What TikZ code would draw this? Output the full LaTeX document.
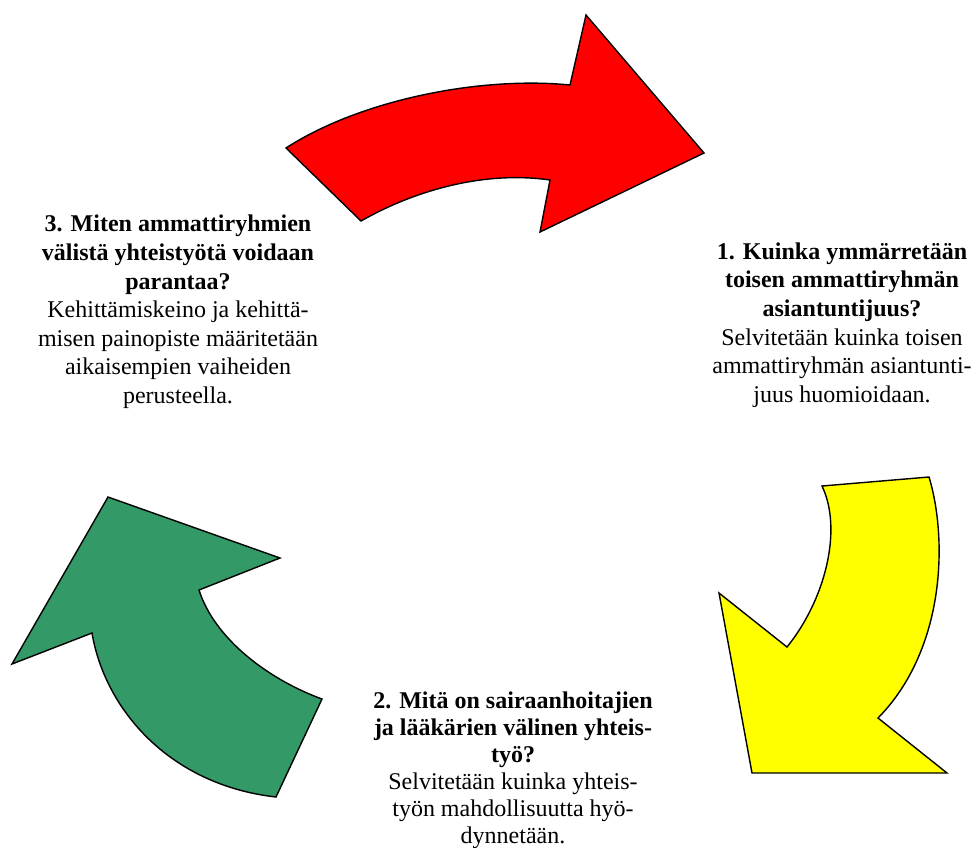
\documentclass[tikz,border=0pt]{standalone}
\usepackage{fontspec}
\setmainfont{Liberation Serif}
\definecolor{cyInk}{HTML}{000000}
\definecolor{cyRed}{HTML}{FF0000}
\definecolor{cyYellow}{HTML}{FFFF00}
\definecolor{cyGreen}{HTML}{339966}
\tikzset{
  bentarrow/.style={draw=cyInk, line width=1.4pt, line join=miter},
  phase/.style={align=center, font=\fontsize{24}{28.6}\selectfont,
                text=cyInk, inner sep=0pt},
}

\begin{document}
\begin{tikzpicture}[x=1pt, y=-1pt]
  \useasboundingbox (0,0) rectangle (973,847);

  % red arrow, top
  \filldraw[bentarrow, fill=cyRed]
    (286,148) .. controls (360,100) and (480,76) .. (570,85)
    -- (586,15) -- (704,153) -- (540,232) -- (550,180)
    .. controls (480,170) and (410,193) .. (361,221) -- cycle;
  % yellow arrow, right
  \filldraw[bentarrow, fill=cyYellow]
    (822,486) -- (929,477)
    .. controls (948,540) and (945,650) .. (878,718)
    -- (947,773) -- (752,773) -- (719,593) -- (787,647)
    .. controls (825,600) and (843,530) .. cycle;
  % green arrow, left
  \filldraw[bentarrow, fill=cyGreen]
    (276,797) -- (322,699)
    .. controls (270,680) and (215,640) .. (199,590)
    -- (280,558) -- (108,497) -- (12,664) -- (92,633)
    .. controls (105,710) and (170,785) .. cycle;

  \node[phase] (one) at (842,325)
    {\textbf{1. Kuinka ymmärretään}\\
     \textbf{toisen ammattiryhmän}\\
     \textbf{asiantuntijuus?}\\
     Selvitetään kuinka toisen\\
     ammattiryhmän asiantunti-\\
     juus huomioidaan.};
  \node[phase, font=\fontsize{24}{27}\selectfont] (two) at (513,770)
    {\textbf{2. Mitä on sairaanhoitajien}\\
     \textbf{ja lääkärien välinen yhteis-}\\
     \textbf{työ?}\\
     Selvitetään kuinka yhteis-\\
     työn mahdollisuutta hyö-\\
     dynnetään.};
  \node[phase] (three) at (178,312)
    {\textbf{3. Miten ammattiryhmien}\\
     \textbf{välistä yhteistyötä voidaan}\\
     \textbf{parantaa?}\\
     Kehittämiskeino ja kehittä-\\
     misen painopiste määritetään\\
     aikaisempien vaiheiden\\
     perusteella.};
\end{tikzpicture}
\end{document}
